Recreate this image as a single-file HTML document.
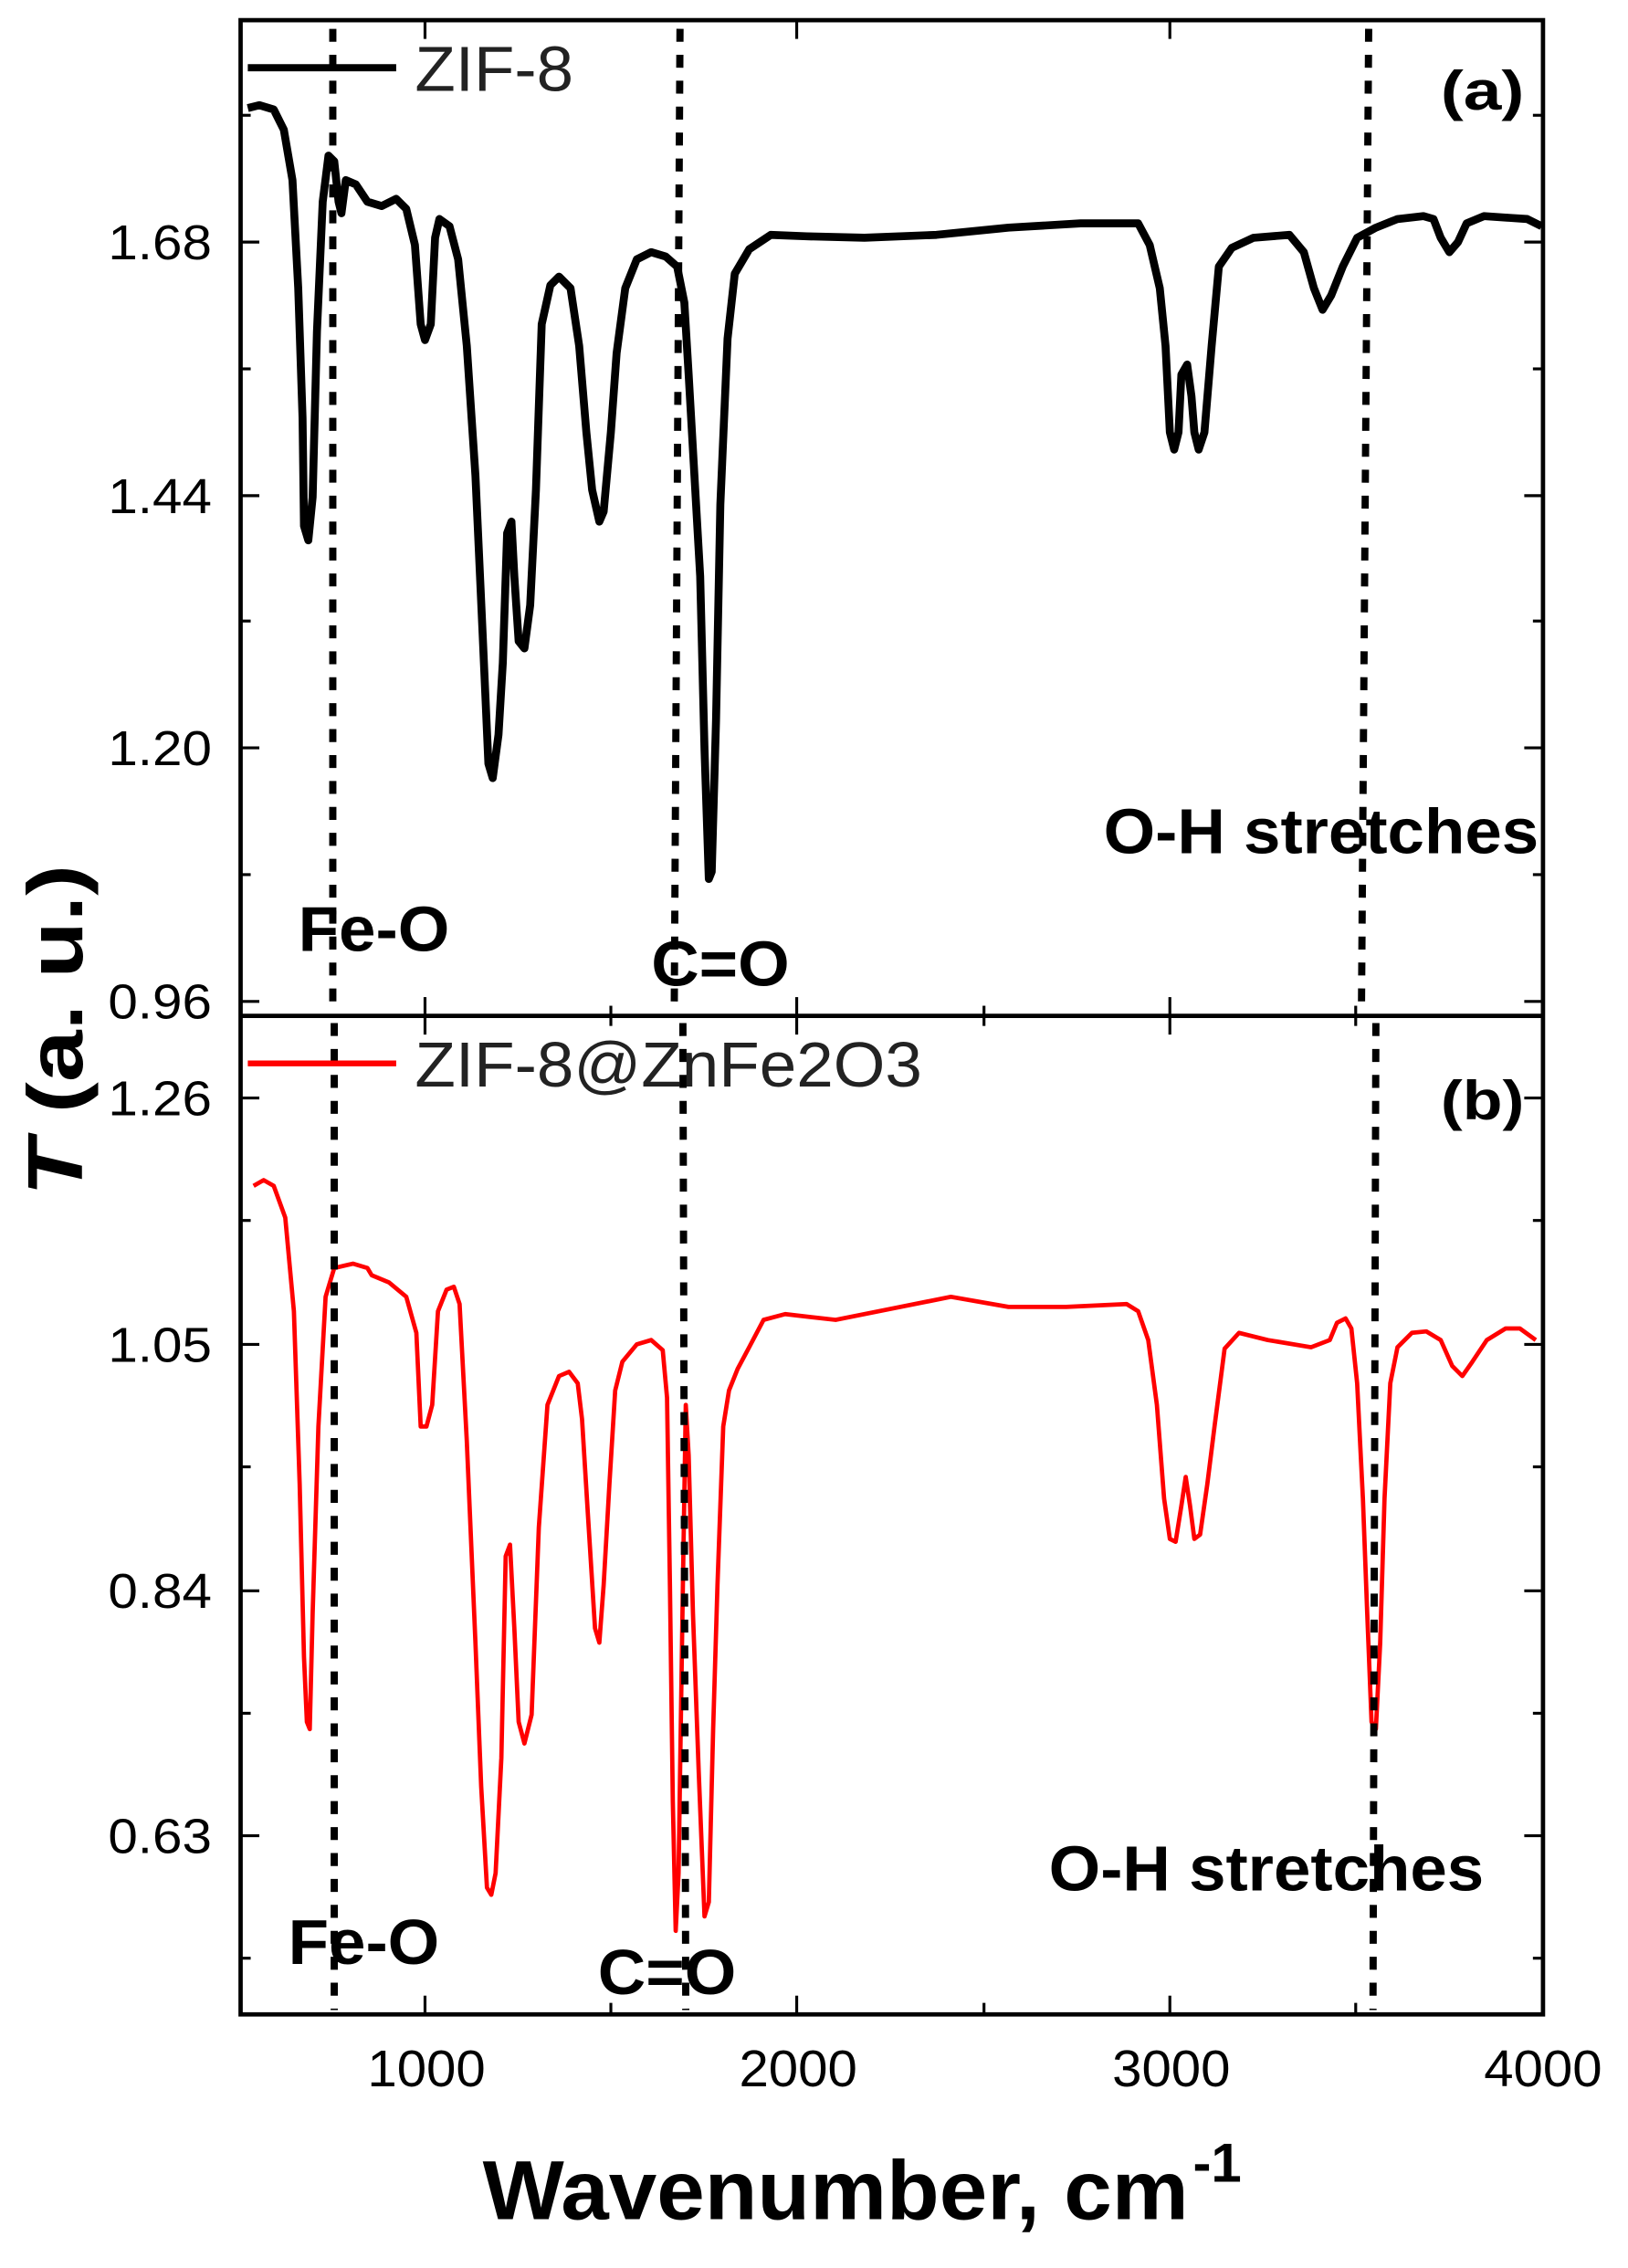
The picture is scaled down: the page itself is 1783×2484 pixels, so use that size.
<!DOCTYPE html>
<html><head><meta charset="utf-8"><style>
html,body{margin:0;padding:0;background:#fff;}
svg{display:block;}
text{font-family:"Liberation Sans",Arial,sans-serif;}
</style></head><body>
<svg width="1783" height="2484" viewBox="0 0 1130 1574" preserveAspectRatio="none" xmlns="http://www.w3.org/2000/svg">
<polyline fill="none" stroke="#000" stroke-width="5.5" stroke-linejoin="round" points="172,75 180,73 190,76 197,90 203,125 207,200 210,290 211,365 214,375 217,345 220,230 224,140 228,108 232,112 235,140 237,148 240,125 247,128 255,140 265,143 275,138 282,145 288,170 292,225 295,236 299,225 302,165 305,152 312,157 318,180 324,240 330,330 335,440 339,530 342,540 346,510 349,460 352,370 355,362 357,400 360,445 364,450 368,420 372,340 376,225 382,198 388,192 396,200 402,240 407,300 411,340 416,362 419,355 424,300 428,245 434,200 442,180 452,175 462,178 470,185 475,210 478,260 482,330 486,400 489,520 492,610 494,605 497,500 500,350 505,235 510,190 520,173 535,163 560,164 600,165 650,163 700,158 750,155 790,155 798,170 805,200 809,240 812,300 815,312 818,300 820,260 824,253 827,275 829,300 832,312 836,300 841,240 846,185 855,172 870,165 895,163 905,175 912,200 918,215 924,205 932,185 942,165 955,158 970,152 988,150 995,152 1000,165 1006,175 1012,168 1018,155 1030,150 1045,151 1060,152 1070,157"/>
<polyline fill="none" stroke="#ff0000" stroke-width="3" stroke-linejoin="round" points="176,823 183,819 190,823 198,845 204,910 208,1030 211,1150 213,1195 215,1200 217,1120 221,990 226,900 232,880 245,877 255,880 258,885 270,890 282,900 289,925 292,990 296,990 300,975 304,910 310,895 315,893 319,905 324,1000 330,1140 334,1240 338,1310 341,1315 344,1300 348,1220 351,1080 354,1072 357,1130 360,1195 364,1210 369,1190 374,1060 380,975 388,955 395,952 401,960 404,985 408,1050 413,1130 416,1140 419,1100 423,1030 427,965 432,945 442,933 452,930 460,937 463,970 465,1100 467,1250 469,1340 471,1300 474,1100 476,975 478,1010 481,1120 485,1230 489,1330 492,1320 495,1200 498,1100 502,990 506,965 512,950 520,935 530,916 545,912 580,916 620,908 660,900 700,907 740,907 782,905 790,910 797,930 803,975 808,1040 812,1068 816,1070 820,1045 823,1025 826,1045 829,1068 833,1065 838,1030 843,990 850,936 860,925 880,930 910,935 923,930 928,918 934,915 938,922 942,960 946,1040 949,1120 952,1195 955,1200 958,1140 961,1040 965,960 970,935 980,925 990,924 1000,930 1008,948 1015,955 1022,945 1032,930 1045,922 1055,922 1066,930"/>
<g stroke="#000" stroke-width="5" stroke-dasharray="9,9" fill="none">
<line x1="231" y1="20" x2="231" y2="700"/>
<line x1="232" y1="710" x2="232" y2="1395"/>
<line x1="472" y1="20" x2="468" y2="700"/>
<line x1="474" y1="710" x2="476" y2="1395"/>
<line x1="950" y1="20" x2="945" y2="700"/>
<line x1="955" y1="710" x2="953" y2="1395"/>
</g>
<g stroke="#000" stroke-width="3" fill="none">
<rect x="167" y="14" width="904" height="1384"/>
<line x1="167" y1="705" x2="1071" y2="705"/>
</g>
<g stroke="#000" stroke-width="2">
<line x1="295" y1="1398" x2="295" y2="1385"/><line x1="424" y1="1398" x2="424" y2="1390"/>
<line x1="553" y1="1398" x2="553" y2="1385"/><line x1="683" y1="1398" x2="683" y2="1390"/>
<line x1="812" y1="1398" x2="812" y2="1385"/><line x1="941" y1="1398" x2="941" y2="1390"/>
<line x1="295" y1="705" x2="295" y2="692"/><line x1="295" y1="705" x2="295" y2="718"/>
<line x1="424" y1="698" x2="424" y2="712"/>
<line x1="553" y1="705" x2="553" y2="692"/><line x1="553" y1="705" x2="553" y2="718"/>
<line x1="683" y1="698" x2="683" y2="712"/>
<line x1="812" y1="705" x2="812" y2="692"/><line x1="812" y1="705" x2="812" y2="718"/>
<line x1="941" y1="698" x2="941" y2="712"/>
<line x1="295" y1="14" x2="295" y2="27"/><line x1="553" y1="14" x2="553" y2="27"/><line x1="812" y1="14" x2="812" y2="27"/>
<line x1="167" y1="168" x2="180" y2="168"/><line x1="1071" y1="168" x2="1058" y2="168"/>
<line x1="167" y1="256" x2="174" y2="256"/><line x1="1071" y1="256" x2="1064" y2="256"/>
<line x1="167" y1="344" x2="180" y2="344"/><line x1="1071" y1="344" x2="1058" y2="344"/>
<line x1="167" y1="431" x2="174" y2="431"/><line x1="1071" y1="431" x2="1064" y2="431"/>
<line x1="167" y1="519" x2="180" y2="519"/><line x1="1071" y1="519" x2="1058" y2="519"/>
<line x1="167" y1="607" x2="174" y2="607"/><line x1="1071" y1="607" x2="1064" y2="607"/>
<line x1="167" y1="695" x2="180" y2="695"/><line x1="1071" y1="695" x2="1058" y2="695"/>
<line x1="167" y1="80" x2="174" y2="80"/><line x1="1071" y1="80" x2="1064" y2="80"/>
<line x1="167" y1="762" x2="180" y2="762"/><line x1="1071" y1="762" x2="1058" y2="762"/>
<line x1="167" y1="847" x2="174" y2="847"/><line x1="1071" y1="847" x2="1064" y2="847"/>
<line x1="167" y1="933" x2="180" y2="933"/><line x1="1071" y1="933" x2="1058" y2="933"/>
<line x1="167" y1="1018" x2="174" y2="1018"/><line x1="1071" y1="1018" x2="1064" y2="1018"/>
<line x1="167" y1="1104" x2="180" y2="1104"/><line x1="1071" y1="1104" x2="1058" y2="1104"/>
<line x1="167" y1="1189" x2="174" y2="1189"/><line x1="1071" y1="1189" x2="1064" y2="1189"/>
<line x1="167" y1="1274" x2="180" y2="1274"/><line x1="1071" y1="1274" x2="1058" y2="1274"/>
<line x1="167" y1="1359" x2="174" y2="1359"/><line x1="1071" y1="1359" x2="1064" y2="1359"/>
</g>
<g font-size="34" text-anchor="end" fill="#000">
<text x="147" y="180" textLength="72" lengthAdjust="spacingAndGlyphs">1.68</text>
<text x="147" y="356" textLength="72" lengthAdjust="spacingAndGlyphs">1.44</text>
<text x="147" y="531" textLength="72" lengthAdjust="spacingAndGlyphs">1.20</text>
<text x="147" y="707" textLength="72" lengthAdjust="spacingAndGlyphs">0.96</text>
<text x="147" y="774" textLength="72" lengthAdjust="spacingAndGlyphs">1.26</text>
<text x="147" y="945" textLength="72" lengthAdjust="spacingAndGlyphs">1.05</text>
<text x="147" y="1116" textLength="72" lengthAdjust="spacingAndGlyphs">0.84</text>
<text x="147" y="1286" textLength="72" lengthAdjust="spacingAndGlyphs">0.63</text>
</g>
<g font-size="36" text-anchor="middle" fill="#000">
<text x="296" y="1448" textLength="82" lengthAdjust="spacingAndGlyphs">1000</text>
<text x="554" y="1448" textLength="82" lengthAdjust="spacingAndGlyphs">2000</text>
<text x="813" y="1448" textLength="82" lengthAdjust="spacingAndGlyphs">3000</text>
<text x="1071" y="1448" textLength="82" lengthAdjust="spacingAndGlyphs">4000</text>
</g>
<text x="335" y="1540" font-size="58" font-weight="bold" textLength="490" lengthAdjust="spacingAndGlyphs">Wavenumber, cm</text>
<text x="828" y="1514" font-size="38" font-weight="bold">-1</text>
<text transform="translate(57,715) rotate(-90)" font-size="54" font-weight="bold" text-anchor="middle" textLength="230" lengthAdjust="spacingAndGlyphs"><tspan font-style="italic">T</tspan> (a. u.)</text>
<line x1="172" y1="47" x2="275" y2="47" stroke="#000" stroke-width="5"/>
<text x="288" y="63" font-size="44" fill="#222" textLength="110" lengthAdjust="spacingAndGlyphs">ZIF-8</text>
<line x1="172" y1="738" x2="275" y2="738" stroke="#ff0000" stroke-width="4"/>
<text x="288" y="754" font-size="44" fill="#222" textLength="352" lengthAdjust="spacingAndGlyphs">ZIF-8@ZnFe2O3</text>
<g font-size="38" font-weight="bold" fill="#000">
<text x="1000" y="76" textLength="58" lengthAdjust="spacingAndGlyphs">(a)</text>
<text x="1000" y="777" textLength="58" lengthAdjust="spacingAndGlyphs">(b)</text>
</g>
<g font-size="44" font-weight="bold" fill="#000">
<text x="207" y="660" textLength="105" lengthAdjust="spacingAndGlyphs">Fe-O</text>
<text x="452" y="684" textLength="96" lengthAdjust="spacingAndGlyphs">C=O</text>
<text x="766" y="592" textLength="302" lengthAdjust="spacingAndGlyphs">O-H stretches</text>
<text x="200" y="1363" textLength="105" lengthAdjust="spacingAndGlyphs">Fe-O</text>
<text x="415" y="1384" textLength="96" lengthAdjust="spacingAndGlyphs">C=O</text>
<text x="728" y="1312" textLength="302" lengthAdjust="spacingAndGlyphs">O-H stretches</text>
</g>
</svg>
</body></html>
